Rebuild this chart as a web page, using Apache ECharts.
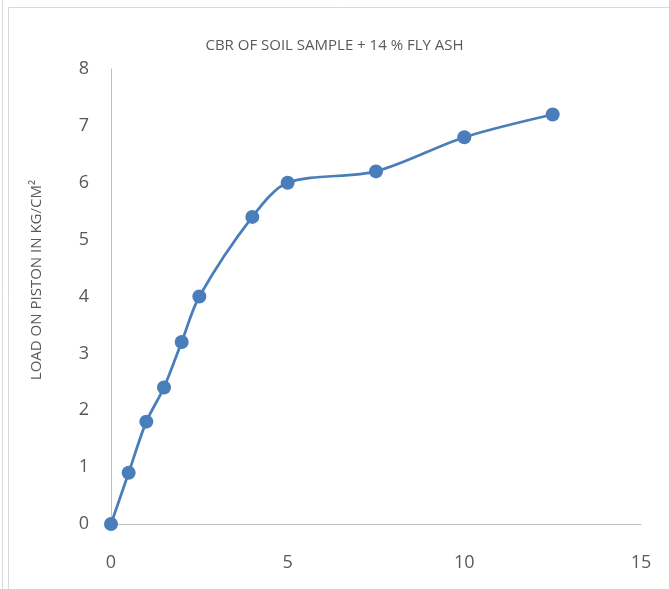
<!DOCTYPE html>
<html>
<head>
<meta charset="utf-8">
<script src="https://cdn.jsdelivr.net/npm/echarts@6/dist/echarts.min.js"></script>
<style>
  html, body { margin: 0; padding: 0; background: #fff; }
  #chart { width: 669px; height: 589px; }
</style>
</head>
<body>
<div id="chart"></div>
<script>
// penetration (mm) vs load (kg/cm2)
var penetration = [0, 0.5, 1, 1.5, 2, 2.5, 4, 5, 7.5, 10, 12.5];
var load = [0, 0.9, 1.8, 2.4, 3.2, 4.0, 5.4, 6.0, 6.2, 6.8, 7.2];
var titleText = "CBR OF SOIL SAMPLE + 14 % FLY ASH";
var yName = "LOAD ON PISTON IN KG/CM²";

var chart = echarts.init(document.getElementById("chart"));
var pts = penetration.map(function (x, i) { return [x, load[i]]; });

var option = {
  animation: false,
  title: {
    text: titleText,
    left: "center",
    top: 33,
    textStyle: { fontFamily: "Open Sans", fontSize: 15, fontWeight: "normal", color: "#595959" }
  },
  grid: { left: 111, right: 28, top: 69, bottom: 65 },
  xAxis: {
    type: "value",
    min: 0, max: 15, interval: 5,
    axisLine: { lineStyle: { color: "#bfbfbf", width: 1 } },
    axisTick: { show: false },
    splitLine: { show: false },
    axisLabel: { margin: 30, fontFamily: "Open Sans", fontSize: 18, color: "#595959" }
  },
  yAxis: {
    type: "value",
    min: 0, max: 8, interval: 1,
    axisLine: { show: true, lineStyle: { color: "#bfbfbf", width: 1 } },
    axisTick: { show: false },
    splitLine: { show: false },
    axisLabel: { margin: 22, fontFamily: "Open Sans", fontSize: 18, color: "#595959" }
  },
  series: [{
    type: "line",
    data: pts,
    smooth: 0.3,
    symbol: "circle",
    symbolSize: 14,
    lineStyle: { color: "#4a7ebb", width: 2.75 },
    itemStyle: { color: "#4a7ebb" }
  }],
  graphic: [
    // chart frame, cropped at right and bottom
    { type: "line", shape: { x1: 2.5, y1: 0, x2: 2.5, y2: 589 }, style: { stroke: "#d9d9d9", lineWidth: 1 } },
    { type: "line", shape: { x1: 8.5, y1: 7.5, x2: 8.5, y2: 589 }, style: { stroke: "#d9d9d9", lineWidth: 1 } },
    { type: "line", shape: { x1: 8.5, y1: 7.5, x2: 669, y2: 7.5 }, style: { stroke: "#d9d9d9", lineWidth: 1 } },
    // y axis title
    {
      type: "text", x: 37, y: 280, rotation: Math.PI / 2,
      style: {
        text: yName, fontFamily: "Open Sans", fontSize: 15, fill: "#595959",
        textAlign: "center", textVerticalAlign: "middle"
      }
    }
  ]
};

chart.setOption(option);
window.addEventListener("resize", function () { chart.resize(); });
</script>
</body>
</html>
